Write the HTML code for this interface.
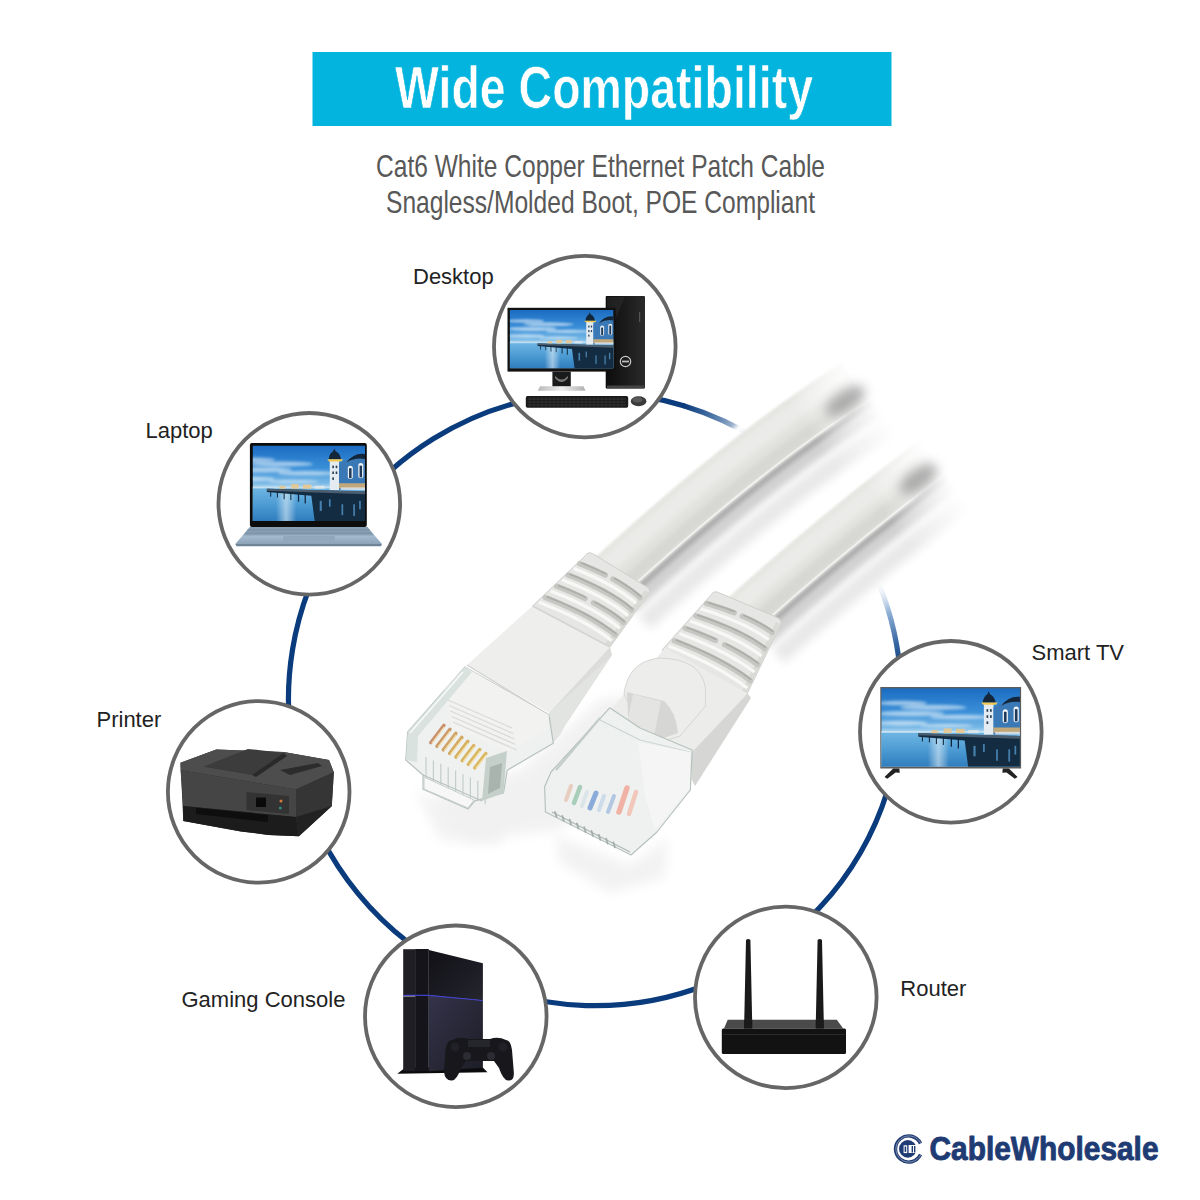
<!DOCTYPE html>
<html><head><meta charset="utf-8"><title>Wide Compatibility</title>
<style>
html,body{margin:0;padding:0;background:#fff;width:1200px;height:1200px;overflow:hidden}
svg{display:block}
text{font-family:"Liberation Sans",sans-serif}
</style></head>
<body>
<svg width="1200" height="1200" viewBox="0 0 1200 1200">
<defs>
<linearGradient id="sky" x1="0" y1="0" x2="0" y2="1">
<stop offset="0" stop-color="#1b6cc2"/><stop offset="0.3" stop-color="#3a8fd8"/><stop offset="0.5" stop-color="#79b9e6"/><stop offset="0.56" stop-color="#b4d8ef"/>
</linearGradient>
<linearGradient id="water" x1="0" y1="0" x2="0" y2="1">
<stop offset="0" stop-color="#6fb6e3"/><stop offset="0.5" stop-color="#4e9cd4"/><stop offset="1" stop-color="#2f7dbd"/>
</linearGradient>
<linearGradient id="refl" x1="0" y1="0" x2="1" y2="0">
<stop offset="0" stop-color="#fff" stop-opacity="0"/><stop offset="0.5" stop-color="#e8f2f8" stop-opacity="0.7"/><stop offset="1" stop-color="#fff" stop-opacity="0"/>
</linearGradient>
<filter id="soft" x="-20%" y="-50%" width="140%" height="200%"><feGaussianBlur stdDeviation="1.6"/></filter>
<symbol id="scene" viewBox="0 0 160 90" preserveAspectRatio="xMidYMid slice">
<rect width="160" height="90" fill="url(#sky)"/>
<g fill="#eaf4fb" opacity="0.6" filter="url(#soft)">
<ellipse cx="25" cy="17" rx="28" ry="2.6"/><ellipse cx="60" cy="22" rx="38" ry="3"/><ellipse cx="35" cy="29" rx="38" ry="3.2"/><ellipse cx="90" cy="33" rx="34" ry="2.6"/><ellipse cx="25" cy="40" rx="28" ry="2.6"/><ellipse cx="75" cy="43" rx="30" ry="2"/>
</g>
<rect y="50" width="160" height="40" fill="url(#water)"/>
<rect x="0" y="49" width="160" height="2.2" fill="#cfe6f3" opacity="0.8"/>
<rect x="54" y="56" width="24" height="34" fill="url(#refl)" opacity="0.8"/>
<path d="M43 51.5 L160 55 L160 90 L100 90 L96 60 L43 55.5 Z" fill="#142c42"/>
<path d="M43 51.5 L160 54.5 L160 58 L43 54 Z" fill="#4a5e70"/>
<g fill="#10263a"><rect x="47" y="55" width="1.2" height="6"/><rect x="55" y="55" width="1.2" height="7"/><rect x="63" y="56" width="1.2" height="8"/><rect x="71" y="56" width="1.2" height="9"/><rect x="80" y="57" width="1.5" height="10"/><rect x="88" y="57" width="1.5" height="12"/></g>
<g fill="#4f8fc0" opacity="0.85"><rect x="106" y="66" width="2.5" height="12"/><rect x="117" y="64" width="2" height="9"/><rect x="132" y="70" width="2" height="13"/><rect x="146" y="70" width="2" height="14"/><rect x="153" y="66" width="2" height="10"/></g>
<g fill="#e8c890" opacity="0.9"><rect x="58" y="48" width="7" height="3.5"/><rect x="72" y="46" width="9" height="5.5"/><rect x="86" y="46.5" width="10" height="5"/><rect x="100" y="48" width="12" height="3.5" fill="#dfe6ea"/></g>
<path d="M118 17 L129 17 L129 53 L118 53 Z" fill="#e4ecf2"/>
<path d="M116.5 16.5 Q118 9 122 7 L123.5 3.5 L125 7 Q130 9 131.5 16.5 Z" fill="#13263a"/>
<path d="M115 16.5 L134 16.5 L132 19 L117 19 Z" fill="#f0c850"/>
<path d="M129 22 Q140 14 160 15 L160 52 L129 53 Z" fill="#3a78b6"/>
<path d="M138 20 Q147 8 160 10 L160 16 Q148 14 138 20 Z" fill="#13263a"/>
<g fill="#eef4f8"><rect x="139.5" y="24" width="6" height="16" rx="3"/><rect x="152" y="21" width="6" height="18" rx="3"/></g>
<g fill="#1f3a58"><rect x="141" y="27" width="3" height="12"/><rect x="153.5" y="24" width="3" height="14"/></g>
<g fill="#2a4058"><rect x="121" y="24" width="2" height="3"/><rect x="121" y="31" width="2" height="3"/><rect x="121" y="38" width="2" height="3"/><rect x="125" y="24" width="2" height="3"/><rect x="125" y="31" width="2" height="3"/></g>
<rect x="129" y="45" width="31" height="6" fill="#d8b070" opacity="0.85"/>
<rect x="131" y="50" width="29" height="3" fill="#e8eef2" opacity="0.8"/>
</symbol>
<symbol id="sceneR" viewBox="0 0 160 90" preserveAspectRatio="xMaxYMid slice"><use href="#scene" x="0" y="0" width="160" height="90"/></symbol>
<linearGradient id="lapbase" x1="0" y1="0" x2="0" y2="1">
<stop offset="0" stop-color="#8ba1b6"/><stop offset="0.5" stop-color="#a6bccf"/><stop offset="1" stop-color="#8da3b8"/>
</linearGradient>
<linearGradient id="silver" x1="0" y1="0" x2="1" y2="0">
<stop offset="0" stop-color="#b8b8b8"/><stop offset="0.5" stop-color="#f0f0f0"/><stop offset="1" stop-color="#b0b0b0"/>
</linearGradient>
<linearGradient id="ps4low" x1="0" y1="0" x2="1" y2="1">
<stop offset="0" stop-color="#34334a"/><stop offset="1" stop-color="#1d1d26"/>
</linearGradient>
<linearGradient id="ps4top" x1="0" y1="0" x2="1" y2="1">
<stop offset="0" stop-color="#111116"/><stop offset="0.6" stop-color="#1c1c24"/><stop offset="1" stop-color="#26262e"/>
</linearGradient>
<linearGradient id="tower" x1="0" y1="0" x2="1" y2="0">
<stop offset="0" stop-color="#0c0c0c"/><stop offset="0.6" stop-color="#1e1e1e"/><stop offset="1" stop-color="#2a2a2a"/>
</linearGradient>
<filter id="b1" x="-20%" y="-20%" width="140%" height="140%"><feGaussianBlur stdDeviation="1"/></filter>
<filter id="b2" x="-20%" y="-20%" width="140%" height="140%"><feGaussianBlur stdDeviation="2"/></filter>
<filter id="b3" x="-20%" y="-20%" width="140%" height="140%"><feGaussianBlur stdDeviation="3"/></filter>
<filter id="b5" x="-20%" y="-20%" width="140%" height="140%"><feGaussianBlur stdDeviation="5"/></filter>
<filter id="b6" x="-50%" y="-50%" width="200%" height="200%"><feGaussianBlur stdDeviation="6"/></filter>
<linearGradient id="cg1" gradientUnits="userSpaceOnUse" x1="815" y1="440" x2="875" y2="398"><stop offset="0" stop-color="#fff"/><stop offset="1" stop-color="#000"/></linearGradient>
<linearGradient id="cg2" gradientUnits="userSpaceOnUse" x1="888" y1="518" x2="948" y2="474"><stop offset="0" stop-color="#fff"/><stop offset="1" stop-color="#000"/></linearGradient>
<mask id="cm1" maskUnits="userSpaceOnUse" x="0" y="0" width="1200" height="1200"><rect width="1200" height="1200" fill="url(#cg1)"/></mask>
<mask id="cm2" maskUnits="userSpaceOnUse" x="0" y="0" width="1200" height="1200"><rect width="1200" height="1200" fill="url(#cg2)"/></mask>
</defs>
<rect width="1200" height="1200" fill="#fff"/>

<!-- banner -->
<rect x="312.5" y="52" width="579" height="74" fill="#03b5de"/>
<text id="title" x="395" y="107.6" font-size="58.5" font-weight="bold" fill="#fff" stroke="#03b5de" stroke-width="0.7" textLength="418" lengthAdjust="spacingAndGlyphs">Wide Compatibility</text>

<!-- subtitle -->
<text id="sub1" x="376" y="177.3" font-size="32" fill="#585858" textLength="449" lengthAdjust="spacingAndGlyphs">Cat6 White Copper Ethernet Patch Cable</text>
<text id="sub2" x="386" y="213" font-size="32" fill="#585858" textLength="429" lengthAdjust="spacingAndGlyphs">Snagless/Molded Boot, POE Compliant</text>

<!-- big circle -->
<linearGradient id="fade1" gradientUnits="userSpaceOnUse" x1="684.6" y1="406.1" x2="748.2" y2="433.8"><stop offset="0" stop-color="#0a3b7c"/><stop offset="0.45" stop-color="#4f78aa"/><stop offset="1" stop-color="#0a3b7c" stop-opacity="0"/></linearGradient>
<linearGradient id="fade2" gradientUnits="userSpaceOnUse" x1="899.8" y1="667.2" x2="879.2" y2="584.4"><stop offset="0" stop-color="#0a3b7c"/><stop offset="0.3" stop-color="#3a6aa4"/><stop offset="0.65" stop-color="#8fb0d6"/><stop offset="1" stop-color="#cfdcec" stop-opacity="0"/></linearGradient>
<g id="big" fill="none" stroke-width="5.2">
<path d="M899.8 667.2 A306.5 306.5 0 1 1 684.6 406.1" stroke="#0a3b7c"/>
<path d="M683.6 405.8 A306.5 306.5 0 0 1 761.9 442.1" stroke="url(#fade1)"/>
<path d="M875.0 574.5 A306.5 306.5 0 0 1 899.9 668.2" stroke="url(#fade2)"/>
</g>


<!-- cables -->
<g id="cables" fill="none" stroke-linecap="butt">
<g mask="url(#cm1)">
<path d="M622 597 Q761.9 468.6 870 400" transform="translate(22.4,25.5)" stroke="#e8e8e8" stroke-width="18" filter="url(#b5)"/>
<path d="M622 597 Q761.9 468.6 870 400" transform="translate(7.9,9.0)" stroke="#d2d2d2" stroke-width="16" filter="url(#b3)"/>
<path d="M622 597 Q761.9 468.6 870 400" transform="translate(2.6,3.0)" stroke="#ababab" stroke-width="7" filter="url(#b2)"/>
<path d="M622 597 Q761.9 468.6 870 400" transform="translate(-15.8,-18.0)" stroke="#e1e1dd" stroke-width="48" filter="url(#b1)"/>
<path d="M622 597 Q761.9 468.6 870 400" transform="translate(-5.3,-6.0)" stroke="#d7d7d3" stroke-width="12" filter="url(#b2)"/>
<path d="M622 597 Q761.9 468.6 870 400" transform="translate(-0.5,-0.6)" stroke="#f3f3f1" stroke-width="1.6"/>
<path d="M622 597 Q761.9 468.6 870 400" transform="translate(-22.2,-25.2)" stroke="#ebebe9" stroke-width="19.2" filter="url(#b3)"/>
<path d="M622 597 Q761.9 468.6 870 400" transform="translate(-34.3,-39.0)" stroke="#fff" stroke-width="8" filter="url(#b2)"/>
</g>
<g mask="url(#cm2)">
<path d="M756 631 Q840.4 554.3 946 474" transform="translate(22.4,25.5)" stroke="#e8e8e8" stroke-width="18" filter="url(#b5)"/>
<path d="M756 631 Q840.4 554.3 946 474" transform="translate(7.9,9.0)" stroke="#d2d2d2" stroke-width="16" filter="url(#b3)"/>
<path d="M756 631 Q840.4 554.3 946 474" transform="translate(2.6,3.0)" stroke="#ababab" stroke-width="7" filter="url(#b2)"/>
<path d="M756 631 Q840.4 554.3 946 474" transform="translate(-14.5,-16.5)" stroke="#e1e1dd" stroke-width="44" filter="url(#b1)"/>
<path d="M756 631 Q840.4 554.3 946 474" transform="translate(-5.3,-6.0)" stroke="#d7d7d3" stroke-width="12" filter="url(#b2)"/>
<path d="M756 631 Q840.4 554.3 946 474" transform="translate(-0.5,-0.6)" stroke="#f3f3f1" stroke-width="1.6"/>
<path d="M756 631 Q840.4 554.3 946 474" transform="translate(-20.3,-23.1)" stroke="#ebebe9" stroke-width="17.6" filter="url(#b3)"/>
<path d="M756 631 Q840.4 554.3 946 474" transform="translate(-31.7,-36.0)" stroke="#fff" stroke-width="8" filter="url(#b2)"/>
</g>
<ellipse cx="845" cy="401" rx="23" ry="10" transform="rotate(-34 845 401)" fill="#999" filter="url(#b6)" opacity="0.8"/>
<ellipse cx="918" cy="479" rx="22" ry="10" transform="rotate(-36 918 479)" fill="#999" filter="url(#b6)" opacity="0.8"/>
</g>

<!-- connectors -->
<g id="conn" stroke-linejoin="round">
<!-- shadows/reflections -->
<path d="M430 800 L520 770 L600 700 L660 690 L640 760 L560 830 L470 840 Z" fill="#ececec" filter="url(#b6)" opacity="0.7"/>
<path d="M555 835 L630 865 L668 838 L664 878 L610 893 L560 862 Z" fill="#efefef" filter="url(#b6)" opacity="0.8"/>
<path d="M415 790 L470 818 L505 800 L500 845 L440 840 Z" fill="#f0f0f0" filter="url(#b6)" opacity="0.8"/>
<!-- boot 1 -->
<path d="M585.5 555.5 Q587.5 551.5 592.5 553.5 L644.5 585.5 Q650.5 587.5 649.5 592.5 L610.0 647.0 L532.5 606.0 Z" fill="#e6e6e4" stroke="#cfcfcc" stroke-width="1"/>
<path d="M649.5 592.5 L610.0 647.0 L605.0 644.0 L644.5 590.5 Z" fill="#dadad7"/>
<g fill="none"><path d="M573.6 568.4 L583.7 572.6 L593.2 576.7 L602.0 581.0 L610.1 585.3 L617.6 589.7 L624.5 594.2 L630.7 598.7 L636.2 603.3" stroke="#f8f8f6" stroke-width="3.2"/>
<path d="M579.6 563.7 L583.1 565.1 L586.5 566.5 L589.9 567.9 L593.1 569.3 L596.3 570.7 L599.4 572.2 L602.5 573.6 L605.4 575.1" stroke="#c6c6c2" stroke-width="5.4" stroke-linecap="round" stroke-linejoin="round"/>
<path d="M581.5 563.0 L584.8 564.4 L588.0 565.7 L591.1 567.0 L594.1 568.3 L597.1 569.7 L600.1 571.0 L602.9 572.4 L605.7 573.8" stroke="#adadaa" stroke-width="1.8" stroke-linecap="round" stroke-linejoin="round"/>
<path d="M612.9 579.0 L616.9 581.3 L620.7 583.6 L624.4 585.9 L627.8 588.2 L631.1 590.5 L634.2 592.9 L637.2 595.2 L639.9 597.6" stroke="#c6c6c2" stroke-width="5.4" stroke-linecap="round" stroke-linejoin="round"/>
<path d="M614.5 578.4 L618.4 580.6 L622.0 582.8 L625.5 585.0 L628.8 587.2 L632.0 589.4 L635.0 591.7 L637.8 594.0 L640.5 596.3" stroke="#adadaa" stroke-width="1.8" stroke-linecap="round" stroke-linejoin="round"/>
<path d="M562.1 579.7 L572.7 584.0 L582.6 588.3 L591.9 592.8 L600.5 597.2 L608.4 601.8 L615.6 606.4 L622.2 611.0 L628.1 615.8" stroke="#f8f8f6" stroke-width="3.2"/>
<path d="M568.2 575.0 L578.4 579.1 L588.0 583.4 L596.9 587.7 L605.2 592.0 L612.8 596.5 L619.8 600.9 L626.1 605.5 L631.8 610.1" stroke="#c6c6c2" stroke-width="5.4" stroke-linecap="round" stroke-linejoin="round"/>
<path d="M570.1 574.3 L580.1 578.4 L589.4 582.6 L598.1 586.8 L606.2 591.1 L613.7 595.4 L620.5 599.8 L626.7 604.2 L632.3 608.7" stroke="#adadaa" stroke-width="1.8" stroke-linecap="round" stroke-linejoin="round"/>
<path d="M550.7 591.0 L561.7 595.4 L572.1 600.0 L581.8 604.5 L590.8 609.2 L599.1 613.8 L606.7 618.6 L613.7 623.4 L619.9 628.2" stroke="#f8f8f6" stroke-width="3.2"/>
<path d="M556.8 586.2 L560.6 587.8 L564.4 589.3 L568.0 590.8 L571.6 592.4 L575.1 593.9 L578.5 595.5 L581.9 597.0 L585.1 598.6" stroke="#c6c6c2" stroke-width="5.4" stroke-linecap="round" stroke-linejoin="round"/>
<path d="M558.7 585.6 L562.3 587.1 L565.8 588.5 L569.3 589.9 L572.6 591.4 L575.9 592.8 L579.1 594.3 L582.3 595.8 L585.3 597.2" stroke="#adadaa" stroke-width="1.8" stroke-linecap="round" stroke-linejoin="round"/>
<path d="M593.4 602.8 L597.8 605.2 L602.1 607.6 L606.1 610.1 L610.0 612.6 L613.7 615.0 L617.2 617.5 L620.5 620.0 L623.6 622.6" stroke="#c6c6c2" stroke-width="5.4" stroke-linecap="round" stroke-linejoin="round"/>
<path d="M595.1 602.2 L599.4 604.5 L603.4 606.9 L607.3 609.2 L611.0 611.6 L614.5 614.0 L617.9 616.4 L621.1 618.8 L624.1 621.2" stroke="#adadaa" stroke-width="1.8" stroke-linecap="round" stroke-linejoin="round"/>
<path d="M539.2 602.2 L550.8 606.9 L561.6 611.6 L571.7 616.3 L581.2 621.1 L589.9 625.9 L597.9 630.8 L605.2 635.7 L611.7 640.7" stroke="#f8f8f6" stroke-width="3.2"/>
<path d="M545.4 597.5 L556.5 602.0 L567.0 606.6 L576.8 611.2 L585.9 615.9 L594.3 620.6 L602.0 625.4 L609.1 630.2 L615.4 635.0" stroke="#c6c6c2" stroke-width="5.4" stroke-linecap="round" stroke-linejoin="round"/>
<path d="M547.3 596.9 L558.2 601.3 L568.4 605.8 L578.0 610.3 L586.9 614.9 L595.1 619.5 L602.7 624.2 L609.6 628.9 L615.9 633.6" stroke="#adadaa" stroke-width="1.8" stroke-linecap="round" stroke-linejoin="round"/></g>
<path d="M532.5 606 L610 647 L549 713 L467 665 Z" fill="#eeeeed"/>
<path d="M610 647 L612 655 L566 724 L549 713 Z" fill="#dcdcda"/>
<path d="M612 655 L566 724 L560 735 L553 743 L549 713 Z" fill="#e2e4e2"/>
<path d="M467 665 L549 715" stroke="#cfcfcd" stroke-width="1.2" fill="none"/>
<path d="M532.5 606 L610 647" stroke="#d4d4d2" stroke-width="1.5" fill="none"/>
<!-- connector 1 -->
<path d="M465 667 L407.7 731.8 L405.8 760 L423 775 L423 789.3 L468 809 L474.8 800.9 L503.5 793 L507.3 770.2 L553.3 743.3 L549 715 Z" fill="#eef1ef" stroke="#b7c2be" stroke-width="1.2"/>
<path d="M465 667 L549 715 L546 730 L507 752 L452 728 L444 690 Z" fill="#f2f2f1"/>
<g stroke="#d9dbd9" stroke-width="1.3" fill="none"><path d="M448.0 700.0 l64 28"/><path d="M449.2 705.5 l64 28"/><path d="M450.4 711.0 l64 28"/><path d="M451.6 716.5 l64 28"/><path d="M452.8 722.0 l64 28"/></g>
<path d="M407.7 731.8 L465 667 L472 672 L418 736 L417 762 L405.8 760 Z" fill="#d6e0db" opacity="0.9"/>
<path d="M410 733 L463 672" stroke="#f8fbfa" stroke-width="1.5" fill="none"/>
<path d="M486 758 L507 751 L503.5 793 L482 801 Z" fill="#c6d0cb"/>
<path d="M490 767 L502 763 L500 788 L488 794 Z" fill="#a9b4af"/>
<g stroke="#c4ceca" stroke-width="1.2" fill="none"><path d="M426.0 757.0 l0 24.0" /><path d="M433.4 760.4 l0 23.5" /><path d="M440.8 763.8 l0 23.0" /><path d="M448.2 767.2 l0 22.5" /><path d="M455.6 770.6 l0 22.0" /><path d="M463.0 774.0 l0 21.5" /><path d="M470.4 777.4 l0 21.0" /><path d="M477.8 780.8 l0 20.5" /><path d="M485.2 784.2 l0 20.0" /></g>
<path d="M423 775 L482 801" stroke="#b8c2be" stroke-width="1.2" fill="none"/>
<path d="M424 777 L424 789 L468 808 L474 800 Z" fill="#f6f7f6" stroke="#c8d0cc" stroke-width="1"/>
<g fill="none" stroke-linecap="round"><path d="M430.7 742.7 l13.3 -17.4" stroke="#c8906e" stroke-width="3.4"/><path d="M432.0 743.0 l12.0 -15.6" stroke="#f6e4b0" stroke-width="1.1"/>
<path d="M437.0 746.3 l13.0 -17.0" stroke="#cc9a6a" stroke-width="3.4"/><path d="M438.3 746.6 l11.7 -15.2" stroke="#f6e4b0" stroke-width="1.1"/>
<path d="M443.3 749.9 l12.6 -16.5" stroke="#d0a466" stroke-width="3.4"/><path d="M444.6 750.2 l11.4 -14.8" stroke="#f6e4b0" stroke-width="1.1"/>
<path d="M449.6 753.5 l12.3 -16.1" stroke="#d4aa62" stroke-width="3.4"/><path d="M450.9 753.8 l11.1 -14.4" stroke="#f6e4b0" stroke-width="1.1"/>
<path d="M455.9 757.1 l12.0 -15.7" stroke="#d6b060" stroke-width="3.4"/><path d="M457.2 757.4 l10.8 -14.0" stroke="#f6e4b0" stroke-width="1.1"/>
<path d="M462.2 760.7 l11.6 -15.2" stroke="#d8b460" stroke-width="3.4"/><path d="M463.5 761.0 l10.5 -13.7" stroke="#f6e4b0" stroke-width="1.1"/>
<path d="M468.5 764.3 l11.3 -14.8" stroke="#d8b660" stroke-width="3.4"/><path d="M469.8 764.6 l10.2 -13.3" stroke="#f6e4b0" stroke-width="1.1"/>
<path d="M474.8 767.9 l11.0 -14.4" stroke="#dab862" stroke-width="3.4"/><path d="M476.1 768.2 l9.9 -12.9" stroke="#f6e4b0" stroke-width="1.1"/></g>
<!-- boot 2 -->
<path d="M711.5 594.5 Q713.5 590.5 718.5 592.5 L776.0 617.0 Q782.0 619.0 781.0 624.0 L746.0 696.0 L662.0 650.0 Z" fill="#e6e6e4" stroke="#cfcfcc" stroke-width="1"/>
<path d="M781.0 624.0 L746.0 696.0 L741.0 693.0 L776.0 622.0 Z" fill="#dadad7"/>
<g fill="none"><path d="M700.7 608.8 L711.6 612.2 L721.7 615.9 L731.2 619.6 L740.1 623.4 L748.3 627.3 L755.8 631.4 L762.7 635.6 L768.9 639.8" stroke="#f8f8f6" stroke-width="3.2"/>
<path d="M706.5 603.4 L710.2 604.5 L713.9 605.7 L717.5 606.8 L721.0 608.0 L724.4 609.2 L727.7 610.4 L731.0 611.6 L734.2 612.8" stroke="#c6c6c2" stroke-width="5.4" stroke-linecap="round" stroke-linejoin="round"/>
<path d="M708.3 602.6 L711.8 603.7 L715.3 604.8 L718.6 605.8 L721.9 606.9 L725.1 608.0 L728.3 609.2 L731.3 610.3 L734.4 611.4" stroke="#adadaa" stroke-width="1.8" stroke-linecap="round" stroke-linejoin="round"/>
<path d="M742.3 616.1 L746.7 618.1 L750.9 620.0 L754.9 622.0 L758.7 624.1 L762.3 626.2 L765.8 628.3 L769.0 630.4 L772.1 632.6" stroke="#c6c6c2" stroke-width="5.4" stroke-linecap="round" stroke-linejoin="round"/>
<path d="M744.0 615.4 L748.1 617.2 L752.1 619.1 L755.9 621.1 L759.6 623.0 L763.1 625.0 L766.4 627.0 L769.6 629.1 L772.6 631.2" stroke="#adadaa" stroke-width="1.8" stroke-linecap="round" stroke-linejoin="round"/>
<path d="M690.0 621.1 L701.3 625.2 L712.0 629.3 L722.0 633.5 L731.3 637.8 L739.9 642.2 L747.8 646.7 L755.1 651.3 L761.6 655.9" stroke="#f8f8f6" stroke-width="3.2"/>
<path d="M695.8 615.8 L706.8 619.6 L717.0 623.5 L726.7 627.4 L735.6 631.5 L743.9 635.6 L751.6 639.9 L758.6 644.2 L764.9 648.7" stroke="#c6c6c2" stroke-width="5.4" stroke-linecap="round" stroke-linejoin="round"/>
<path d="M697.7 615.1 L708.4 618.8 L718.4 622.6 L727.8 626.5 L736.6 630.4 L744.7 634.5 L752.2 638.6 L759.1 642.9 L765.3 647.2" stroke="#adadaa" stroke-width="1.8" stroke-linecap="round" stroke-linejoin="round"/>
<path d="M679.3 633.5 L691.1 638.1 L702.3 642.7 L712.7 647.4 L722.5 652.2 L731.5 657.1 L739.8 662.0 L747.5 667.0 L754.4 672.0" stroke="#f8f8f6" stroke-width="3.2"/>
<path d="M685.1 628.3 L689.2 629.8 L693.2 631.3 L697.2 632.8 L701.0 634.3 L704.8 635.9 L708.5 637.4 L712.0 639.0 L715.6 640.5" stroke="#c6c6c2" stroke-width="5.4" stroke-linecap="round" stroke-linejoin="round"/>
<path d="M687.0 627.6 L690.9 629.0 L694.6 630.4 L698.3 631.8 L701.9 633.3 L705.5 634.7 L708.9 636.2 L712.3 637.6 L715.6 639.1" stroke="#adadaa" stroke-width="1.8" stroke-linecap="round" stroke-linejoin="round"/>
<path d="M724.5 644.7 L729.3 647.2 L734.0 649.6 L738.4 652.1 L742.6 654.6 L746.7 657.1 L750.5 659.6 L754.2 662.2 L757.7 664.7" stroke="#c6c6c2" stroke-width="5.4" stroke-linecap="round" stroke-linejoin="round"/>
<path d="M726.2 644.1 L730.8 646.4 L735.2 648.7 L739.5 651.1 L743.6 653.5 L747.4 655.9 L751.2 658.3 L754.7 660.8 L758.0 663.3" stroke="#adadaa" stroke-width="1.8" stroke-linecap="round" stroke-linejoin="round"/>
<path d="M668.5 645.9 L680.9 651.0 L692.5 656.2 L703.5 661.4 L713.7 666.6 L723.1 671.9 L731.9 677.3 L739.9 682.6 L747.2 688.1" stroke="#f8f8f6" stroke-width="3.2"/>
<path d="M674.4 640.7 L686.4 645.5 L697.6 650.4 L708.2 655.3 L718.1 660.3 L727.2 665.4 L735.6 670.4 L743.4 675.6 L750.4 680.8" stroke="#c6c6c2" stroke-width="5.4" stroke-linecap="round" stroke-linejoin="round"/>
<path d="M676.4 640.1 L688.1 644.8 L699.0 649.6 L709.3 654.4 L719.0 659.3 L727.9 664.2 L736.2 669.2 L743.8 674.2 L750.8 679.3" stroke="#adadaa" stroke-width="1.8" stroke-linecap="round" stroke-linejoin="round"/></g>
<path d="M665.4 647.7 L747.5 693.6 L692 752 L692 780 L650 760 L609.8 710.5 Z" fill="#ececeb"/>
<path d="M747.5 693.6 L751 698 L695 786 L692 780 L692 752 Z" fill="#d6d6d4"/>
<!-- hood -->
<path d="M624 694 Q628 661 660 658 Q701 659 705.5 688 L705.5 706 L680 736 L650 745 Z" fill="#ededeb" stroke="#d6d6d4" stroke-width="1"/>
<path d="M627 692 L664 701 Q676 712 678 733 L650 743 L629 737 Z" fill="#d6d6d4"/>
<path d="M633 694 L661 701.5 L652 745 L624 738 Z" fill="#e6e6e4" opacity="0.9"/>
<!-- connector 2 -->
<path d="M609.7 707.8 L551 772 L544.6 786.7 L545.5 812 L631 855 L657 832 L690.3 790 L692.2 750 L640 728 Z" fill="#eef1ef" stroke="#b7c2be" stroke-width="1.2"/>
<path d="M600 720 L640 740 L690 752" stroke="#cdd6d2" stroke-width="1.2" fill="none"/>
<path d="M556 770 L600 718" stroke="#c2ccc8" stroke-width="2.2" fill="none"/>
<path d="M638 742 L690 752 L690 788 L655 830 L645 795 Z" fill="#f4f5f4"/>
<g fill="none" stroke-linecap="round" opacity="0.85">
<path d="M566 800 l5 -14" stroke="#e8c8b8" stroke-width="4"/>
<path d="M574 803 l6 -16" stroke="#9cc8b0" stroke-width="4.5"/>
<path d="M582 806 l5 -14" stroke="#d8e4e8" stroke-width="4"/>
<path d="M590 808 l6 -15" stroke="#7aa0d8" stroke-width="5"/>
<path d="M599 810 l5 -14" stroke="#c8d8ea" stroke-width="4"/>
<path d="M608 812 l6 -16" stroke="#a8c0e0" stroke-width="4"/>
<path d="M619 812 l8 -24" stroke="#f0a898" stroke-width="5.5"/>
<path d="M629 814 l7 -22" stroke="#f2c0b4" stroke-width="4.5"/>
</g>
<path d="M552 812 L630 852" stroke="#b0bab6" stroke-width="1.4" fill="none"/>
<g stroke="#a4aeaa" stroke-width="1.8" stroke-linecap="round"><path d="M555.0 812.0 l1.5 5"/><path d="M562.3 815.8 l1.5 5"/><path d="M569.6 819.6 l1.5 5"/><path d="M576.9 823.4 l1.5 5"/><path d="M584.2 827.2 l1.5 5"/><path d="M591.5 831.0 l1.5 5"/><path d="M598.8 834.8 l1.5 5"/><path d="M606.1 838.6 l1.5 5"/><path d="M613.4 842.4 l1.5 5"/></g>
</g>

<!-- small circles -->
<g fill="#fff" stroke="#666" stroke-width="3.8">
<circle cx="584.8" cy="346.6" r="90.8"/>
<circle cx="309.3" cy="503.8" r="90.8"/>
<circle cx="258.7" cy="791.9" r="90.8"/>
<circle cx="455.8" cy="1016.3" r="90.8"/>
<circle cx="785.8" cy="997.4" r="90.8"/>
<circle cx="950.8" cy="731.8" r="90.8"/>
</g>


<!-- desktop -->
<g id="desktop">
<rect x="605.7" y="296" width="39.3" height="92.6" rx="1" fill="url(#tower)"/>
<rect x="607" y="385.5" width="37" height="3" fill="#444"/>
<path d="M607 297 L625 297 L607 340 Z" fill="#2c2c2c" opacity="0.6"/>
<circle cx="625.5" cy="361.5" r="5.2" fill="none" stroke="#c8c8c8" stroke-width="1.2"/>
<rect x="622" y="360.6" width="7" height="1.8" fill="#bbb"/>
<rect x="639" y="312" width="1.2" height="10" fill="#555"/>
<rect x="507.5" y="307.8" width="108.2" height="63.8" fill="#111"/>
<use href="#scene" x="509.7" y="310" width="103.8" height="58.4"/>
<path d="M552.4 371.6 H570.8 V386.8 H552.4 Z" fill="#1a1a1a"/>
<path d="M555 376 Q561.6 383 568 376 V378 Q561.6 386 555 378 Z" fill="#777"/>
<path d="M540 386.2 H583.5 L585.5 390.8 H537.8 Z" fill="url(#silver)"/>
<path d="M527.5 396 H626.5 Q628.2 396 628.2 398 V406 Q628.2 407.8 626.5 407.8 H527.5 Q525.8 407.8 525.8 406 V398 Q525.8 396 527.5 396 Z" fill="#1b1b1b"/>
<g stroke="#3c3c3c" stroke-width="0.7"><line x1="528" y1="399" x2="626" y2="399"/><line x1="528" y1="402" x2="626" y2="402"/><line x1="528" y1="405" x2="626" y2="405"/></g><g stroke="#333" stroke-width="0.6"><line x1="530" y1="397" x2="530" y2="407"/><line x1="534" y1="397" x2="534" y2="407"/><line x1="538" y1="397" x2="538" y2="407"/><line x1="542" y1="397" x2="542" y2="407"/><line x1="546" y1="397" x2="546" y2="407"/><line x1="550" y1="397" x2="550" y2="407"/><line x1="554" y1="397" x2="554" y2="407"/><line x1="558" y1="397" x2="558" y2="407"/><line x1="562" y1="397" x2="562" y2="407"/><line x1="566" y1="397" x2="566" y2="407"/><line x1="570" y1="397" x2="570" y2="407"/><line x1="574" y1="397" x2="574" y2="407"/><line x1="578" y1="397" x2="578" y2="407"/><line x1="582" y1="397" x2="582" y2="407"/><line x1="586" y1="397" x2="586" y2="407"/><line x1="590" y1="397" x2="590" y2="407"/><line x1="594" y1="397" x2="594" y2="407"/><line x1="598" y1="397" x2="598" y2="407"/><line x1="602" y1="397" x2="602" y2="407"/><line x1="606" y1="397" x2="606" y2="407"/><line x1="610" y1="397" x2="610" y2="407"/><line x1="614" y1="397" x2="614" y2="407"/><line x1="618" y1="397" x2="618" y2="407"/><line x1="622" y1="397" x2="622" y2="407"/></g>
<ellipse cx="638.6" cy="401.2" rx="7.8" ry="5" fill="#3a3a3a"/>
<ellipse cx="637.5" cy="399.8" rx="5" ry="2.6" fill="#5a5a5a"/>
</g>

<!-- laptop -->
<g id="laptop">
<rect x="249.9" y="443" width="116.9" height="84" rx="2" fill="#0c0c0c"/>
<use href="#sceneR" x="252.8" y="445.5" width="112.2" height="75.5"/>
<path d="M250 527 H367.3 L382 544 H235.3 Z" fill="url(#lapbase)"/>
<path d="M250 527 H367.3 L374 535.5 H243 Z" fill="#899fb4"/>
<g stroke="#71859a" stroke-width="0.8" opacity="0.8"><line x1="247" y1="530" x2="370" y2="530"/><line x1="245" y1="533" x2="372" y2="533"/></g>
<rect x="283.3" y="536" width="51.4" height="5.7" fill="#91a7bc"/>
<path d="M235.3 544 H382 L381 546.2 H236.5 Z" fill="#6f8499"/>
</g>

<!-- printer -->
<g id="printer">
<path d="M180.5 762.7 L216.3 749.6 L283.6 752 L329 760 L333.8 772.3 L331.8 806 L298.8 836.3 L268.5 834.9 L241 831.4 L183.3 821.1 Z" fill="#2a2a2a"/>
<path d="M180.5 762.7 L216.3 749.6 L283.6 752 L329 760 L333.8 772.3 L296 789.5 L180.5 770.2 Z" fill="#4d4d4d"/>
<path d="M203.2 766.8 L247.9 748.9 L283.6 753 L252 775 Z" fill="#3c3c3c"/>
<path d="M252 775 L283.6 753 L287 756 L256 777 Z" fill="#2a2a2a"/>
<path d="M280 770 L318 763 L322 766 L290 775 Z" fill="#2c2c2c"/>
<path d="M180.5 770.2 L296 789.5 L296 817 L183.3 806 Z" fill="#454545"/>
<path d="M183.3 806 L296 817 L298.8 836.3 L268.5 834.9 L241 831.4 L183.3 821.1 Z" fill="#1c1c1c"/>
<path d="M196 808 L268 815 L268 822 L196 814 Z" fill="#0e0e0e"/>
<path d="M296 789.5 L333.8 772.3 L331.8 806 L298.8 836.3 L296 817 Z" fill="#353535"/>
<path d="M296 817 L331.8 806 L298.8 836.3 Z" fill="#222"/>
<path d="M246.5 792 L289 796 L289 814 L246.5 810 Z" fill="#333"/>
<rect x="256" y="797.5" width="10" height="9.5" fill="#0a0a0a"/>
<circle cx="281" cy="801" r="1.5" fill="#d27a36"/>
<circle cx="280.3" cy="808" r="1.5" fill="#2f8a80"/>
</g>

<!-- ps4 -->
<g id="ps4">
<path d="M397.3 1073.7 L405 1067.7 L482 1066.8 L487.5 1072.3 Z" fill="#0b0b0e"/>
<rect x="403.2" y="949.2" width="12" height="122" fill="#1e1e24"/>
<rect x="415.1" y="949" width="13.7" height="122.3" fill="#14141a"/>
<path d="M428.8 950 L482.9 963.2 L482.9 1000.5 L428.8 995.3 Z" fill="url(#ps4top)"/>
<path d="M428.8 995.3 L482.9 1000.5 L482.9 1067.7 L428.8 1071.3 Z" fill="url(#ps4low)"/>
<path d="M403.2 995.3 L428.8 995.3 L482.9 1000.5" stroke="#4040c8" stroke-width="1.2" fill="none"/>
<rect x="403.2" y="995.8" width="12" height="1" fill="#fff" opacity="0.5"/>
<path d="M452 1040 Q447 1040 445.5 1050 L444 1072 Q445 1081 452 1080.5 Q457 1080 461 1068 L466 1061 L494 1061 L499 1068 Q503 1080 508 1080.5 Q514.5 1081 513.8 1072 L512 1050 Q510.5 1040 506 1040 Q498 1036 490 1039 L468 1039 Q460 1036 452 1040 Z" fill="#17171c"/>
<rect x="468" y="1040" width="22" height="7" fill="#25252c"/>
<circle cx="467" cy="1056" r="4" fill="#2b2b33"/><circle cx="491" cy="1056" r="4" fill="#2b2b33"/>
<circle cx="455" cy="1047" r="4.5" fill="#202027"/><circle cx="503" cy="1047" r="4.5" fill="#202027"/>
</g>

<!-- router -->
<g id="router">
<path d="M746 940 Q748.2 938 750.4 940 L752.3 1027.6 H744.1 Z" fill="#1a1a1a"/>
<path d="M817.6 940 Q819.8 938 822 940 L823.9 1027.6 H815.7 Z" fill="#1a1a1a"/>
<path d="M727.7 1019.8 H836.8 L843.2 1028.4 H724 Z" fill="#4a4a4a"/>
<path d="M744 1019.8 H752.3 V1028.4 H744 Z M815.7 1019.8 H823.9 V1028.4 H815.7 Z" fill="#1a1a1a"/>
<rect x="721.8" y="1028.4" width="124.2" height="25.7" rx="1.5" fill="#121212"/>
<rect x="723" y="1034" width="122" height="1" fill="#2a2a2a"/>
</g>

<!-- tv -->
<g id="tv">
<rect x="880.3" y="687" width="140.8" height="81.5" fill="#5c5c5c"/>
<use href="#scene" x="881.5" y="688.2" width="138.4" height="78.6"/>
<g fill="#222"><path d="M884.5 777 L893.2 768.6 L899.3 768.6 L899.8 772.8 L895.6 772.6 L887.3 778.8 Z"/><path d="M1017.6 777 L1008.9 768.6 L1002.8 768.6 L1002.3 772.8 L1006.5 772.6 L1014.8 778.8 Z"/></g>
</g>

<!-- labels -->
<g font-size="22" fill="#222">
<text x="413" y="284.2">Desktop</text>
<text x="145.5" y="438.3">Laptop</text>
<text x="96.5" y="726.8">Printer</text>
<text x="181.5" y="1007.4">Gaming Console</text>
<text x="900.3" y="995.7">Router</text>
<text x="1031.5" y="660.2">Smart TV</text>
</g>

<!-- logo -->
<g id="logo" fill="#1f3b73">
<path d="M920.5 1143.5 A13.1 13.1 0 1 0 920.5 1154.5" fill="none" stroke="#1f3b73" stroke-width="3.4"/>
<path d="M920.8 1143.3 A13.1 13.1 0 1 0 920.8 1154.7" fill="none" stroke="#fff" stroke-width="0.6" opacity="0.7"/>
<circle cx="907.8" cy="1148.9" r="8.8"/>
<rect x="908.6" y="1145" width="8.6" height="8" fill="#fff"/>
<rect x="903.6" y="1145.3" width="3.6" height="7.8" fill="#fff"/>
<rect x="904.6" y="1146.5" width="1.6" height="5.4" fill="#1f3b73"/>
<rect x="911.6" y="1146" width="1.4" height="6.5" fill="#1f3b73"/>
<rect x="914" y="1146" width="1.4" height="6.5" fill="#1f3b73"/>
<text x="929.5" y="1159.6" font-size="32.5" font-weight="bold" textLength="229" lengthAdjust="spacingAndGlyphs" stroke="#1f3b73" stroke-width="0.9" stroke-linejoin="round">CableWholesale</text>
</g>
</svg>
</body></html>
